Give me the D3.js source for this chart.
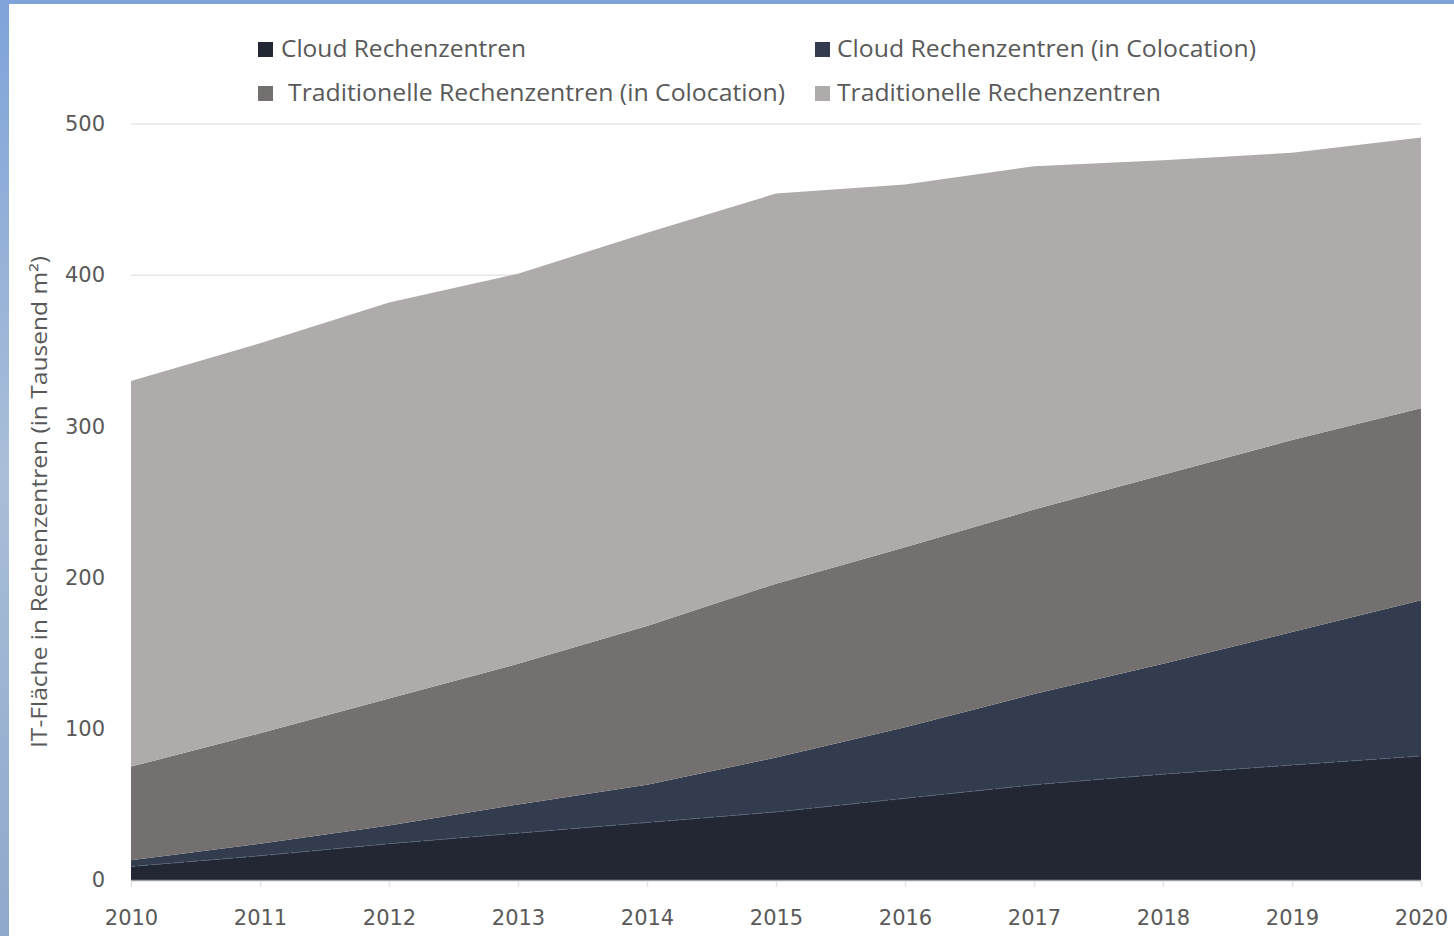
<!DOCTYPE html>
<html>
<head>
<meta charset="utf-8">
<script src="https://cdn.jsdelivr.net/npm/d3@7/dist/d3.min.js"></script>
<style>
  html, body { margin: 0; padding: 0; background: #fff; }
  svg { display: block; }
</style>
</head>
<body>
<svg id="chart" width="1454" height="936"></svg>
<script>
// ---- data ----
const years = [2010, 2011, 2012, 2013, 2014, 2015, 2016, 2017, 2018, 2019, 2020];
const seriesNames = ["Cloud Rechenzentren", "Cloud Rechenzentren (in Colocation)", "Traditionelle Rechenzentren (in Colocation)", "Traditionelle Rechenzentren"];
const cloud      = [9, 16, 24, 31, 38, 45, 54, 63, 70, 76, 82];
const cloudColoc = [4, 8, 12, 19, 25, 36, 47, 60, 73, 88, 103];
const tradColoc  = [62, 73, 84, 93, 105, 115, 119, 122, 125, 127, 127];
const trad       = [255, 258, 262, 258, 260, 258, 240, 227, 208, 190, 179];
const yTicks = [0, 100, 200, 300, 400, 500];
const yTitle = "IT-Fläche in Rechenzentren (in Tausend m²)";

// ---- styles ----
const colors = ["#222733", "#323c4e", "#74706f", "#afabaa"];
const textColor = "#595959";
const svg = d3.select("#chart");
const W = 1454, H = 936;

// background: blue frame at left and top
const defs = svg.append("defs");
const grad = defs.append("linearGradient").attr("id", "sky").attr("x1", 0).attr("y1", 0).attr("x2", 0).attr("y2", 1);
grad.append("stop").attr("offset", "0%").attr("stop-color", "#7fa3da");
grad.append("stop").attr("offset", "50%").attr("stop-color", "#a9bed8");
grad.append("stop").attr("offset", "100%").attr("stop-color", "#8fa9cc");
svg.append("rect").attr("width", W).attr("height", H).attr("fill", "url(#sky)");
svg.append("rect").attr("x", 9).attr("y", 4).attr("width", W - 9).attr("height", H - 4).attr("fill", "#ffffff");

const x = d3.scaleLinear().domain([2010, 2020]).range([131, 1421]);
const y = d3.scaleLinear().domain([0, 500]).range([880, 124]);

// gridlines
svg.append("g").selectAll("line").data(yTicks.filter(d => d > 0)).join("line")
  .attr("x1", x(2010)).attr("x2", x(2020))
  .attr("y1", d => y(d)).attr("y2", d => y(d))
  .attr("stroke", "#e6e6e6").attr("stroke-width", 1.5);

// stacked data
const table = years.map((yr, i) => ({ year: yr, s0: cloud[i], s1: cloudColoc[i], s2: tradColoc[i], s3: trad[i] }));
const stack = d3.stack().keys(["s0", "s1", "s2", "s3"]);
const layers = stack(table);

const area = d3.area()
  .x(d => x(d.data.year))
  .y0(d => y(d[0]))
  .y1(d => y(d[1]));

svg.append("g").selectAll("path").data(layers).join("path")
  .attr("d", area)
  .attr("fill", (d, i) => colors[i]);

// thin dashed boundary on top of the cloud layer
const topLine = d3.line().x(d => x(d.data.year)).y(d => y(d[1]));
svg.append("path").datum(layers[0]).attr("d", topLine)
  .attr("fill", "none").attr("stroke", "#55637a").attr("stroke-width", 1).attr("stroke-dasharray", "4,3");

// x axis line and ticks
svg.append("line").attr("x1", x(2010)).attr("x2", x(2020)).attr("y1", 880.5).attr("y2", 880.5)
  .attr("stroke", "#9aa0a8").attr("stroke-width", 1.5);
const xAxis = d3.axisBottom(x).tickValues(years).tickFormat(d3.format("d")).tickSize(6).tickPadding(23);
const gx = svg.append("g").attr("transform", "translate(0,881)").call(xAxis);
gx.select(".domain").remove();
gx.selectAll(".tick line").attr("stroke", "#e3e3e3").attr("stroke-width", 1.5);
gx.selectAll(".tick text").attr("fill", textColor).attr("font-family", "DejaVu Sans").attr("font-size", 21);

// y axis labels
const yAxis = d3.axisLeft(y).tickValues(yTicks).tickSize(0).tickPadding(26);
const gy = svg.append("g").attr("transform", "translate(131,0)").call(yAxis);
gy.select(".domain").remove();
gy.selectAll(".tick text").attr("fill", textColor).attr("font-family", "DejaVu Sans").attr("font-size", 21);

// y title
svg.append("text")
  .attr("transform", "translate(47,502) rotate(-90)")
  .attr("text-anchor", "middle")
  .attr("fill", textColor)
  .attr("font-family", "Open Sans")
  .attr("font-size", 21)
  .attr("textLength", 492).attr("lengthAdjust", "spacingAndGlyphs")
  .text(yTitle);

// legend
const legendItems = [
  { i: 0, sx: 258, tx: 281, yy: 49, w: 245 },
  { i: 1, sx: 815, tx: 837, yy: 49, w: 419 },
  { i: 2, sx: 258, tx: 288, yy: 93, w: 497 },
  { i: 3, sx: 815, tx: 837, yy: 93, w: 324 }
];
const lg = svg.append("g");
legendItems.forEach(it => {
  lg.append("rect").attr("x", it.sx).attr("y", it.yy - 7).attr("width", 15).attr("height", 15).attr("fill", colors[it.i]);
  lg.append("text").attr("x", it.tx).attr("y", it.yy).attr("dy", "0.35em")
    .attr("fill", textColor).attr("font-family", "Open Sans").attr("font-size", 23)
    .attr("textLength", it.w).attr("lengthAdjust", "spacingAndGlyphs")
    .text(seriesNames[it.i]);
});
</script>
</body>
</html>
